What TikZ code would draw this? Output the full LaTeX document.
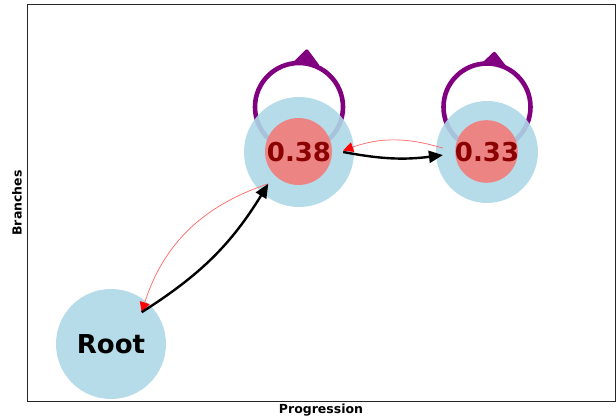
\documentclass[tikz,border=0pt]{standalone}
\usepackage{fontspec}
\setmainfont{DejaVu Sans}
\usetikzlibrary{arrows.meta}
\definecolor{nodeblue}{RGB}{173,216,230}
\definecolor{nodered}{RGB}{240,128,128}
\definecolor{labelred}{RGB}{139,0,0}
\definecolor{loopcol}{RGB}{128,0,128}
\begin{document}
\begin{tikzpicture}[x=1pt,y=1pt,
  hub/.style={circle, minimum size=88pt, inner sep=0pt, font=\fontsize{26}{26}\selectfont\bfseries},
  fwd/.style={line width=2.4pt, -{Triangle[length=14pt,width=12pt]}},
  back/.style={red!60, line width=0.7pt, -{Triangle[length=10pt,width=10pt,color=red]}},
  selfloop/.style={loopcol, line width=4.6pt},
  looptip/.style={fill=loopcol, rounded corners=2pt},
  outer/.style={fill=nodeblue, opacity=0.9},
  inner/.style={fill=nodered, opacity=0.95},
  axislabel/.style={font=\fontsize{12.5}{12.5}\selectfont\bfseries}]
\useasboundingbox (0,0) rectangle (616,420);
\draw[line width=0.9pt, black!85] (27,19) rectangle (615,416);
% self loops
\draw[selfloop] (299,313) circle (44);
\draw[selfloop] (487,313) circle (43.5);
\fill[looptip] (293,357.5) -- (307,371.5) -- (320,354) -- cycle;
\fill[looptip] (481,356) -- (494.5,369) -- (507,353) -- cycle;
% discs
\fill[outer] (111,76) circle (55);
\fill[outer] (299,268) circle (55);
\fill[outer] (487,268) circle (51);
\fill[inner] (298.5,268.5) circle (33.5);
\fill[inner] (486.5,268.5) circle (31.3);
% labelled nodes
\node[hub] (root) at (111,76) {Root};
\node[hub, text=labelred] (a) at (299,268) {0.38};
\node[hub, text=labelred] (b) at (487,268) {0.33};
% edges
\draw[back] (a.226) to[bend right=27] (root.46);
\draw[fwd] (root.46) to[bend right=13] (a.226);
\draw[back] (b.175) to[bend right=18] (a.2);
\draw[fwd] (a.0) to[bend right=9] (b.184);
% axis labels
\node[axislabel] (xl) at (321,10) {Progression};
\node[axislabel, rotate=90] (yl) at (17,217) {Branches};
\end{tikzpicture}
\end{document}
